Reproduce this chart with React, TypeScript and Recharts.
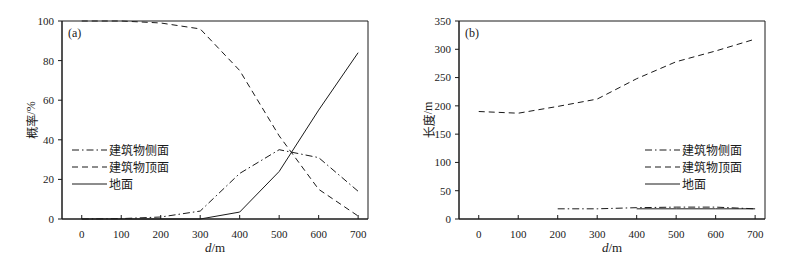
import React from 'react';
import { LineChart, Line, XAxis, YAxis, ReferenceArea } from 'recharts';

const distances = [0, 100, 200, 300, 400, 500, 600, 700];
const xTicks = [0, 100, 200, 300, 400, 500, 600, 700];

// (a) 概率 %
const probSide = [0, 0.2, 1, 4, 23, 35, 31, 14];
const probTop = [100, 100, 99, 96, 75, 42, 15, 1.5];
const probGround = [0, 0, 0, 0, 3.5, 24, 55, 84];
const probTicks = [0, 20, 40, 60, 80, 100];

// (b) 长度 m
const lenSide = [null, null, 18, 18, 20, 21, 21, 18];
const lenTop = [190, 187, 199, 212, 248, 278, 297, 318];
const lenGround = [null, null, null, null, 18, 18, 18, 18];
const lenTicks = [0, 50, 100, 150, 200, 250, 300, 350];

const seriesNames = ['建筑物侧面', '建筑物顶面', '地面'];
const dashes = ['7 3 1.5 3', '6 4', undefined];

const INK = '#1a1a1a';
const SERIF = '"Liberation Serif", "DejaVu Serif", serif';
const CJK = '"Noto Sans CJK SC", sans-serif';

const buildRows = (a: (number | null)[], b: (number | null)[], c: (number | null)[]) =>
  distances.map((d, i) => ({ d, side: a[i], top: b[i], ground: c[i] }));

const LegendBox = ({ left }: { left: number }) => (
  <div style={{ position: 'absolute', left, top: 141 }}>
    {seriesNames.map((name, i) => (
      <div key={name} style={{ display: 'flex', alignItems: 'center', height: 17 }}>
        <svg width={36} height={6}>
          <line x1={0} y1={3} x2={35} y2={3} stroke={INK} strokeWidth={1} strokeDasharray={dashes[i]} />
        </svg>
        <span style={{ fontFamily: CJK, fontSize: 12, lineHeight: '17px', color: INK, marginLeft: 1 }}>{name}</span>
      </div>
    ))}
  </div>
);

const XLabel = (props: any) => {
  const { x, y, width } = props.viewBox;
  return (
    <text x={x + width / 2} y={y + 33} textAnchor="middle" fontFamily={SERIF} fontSize={13} fill={INK}>
      <tspan fontStyle="italic">d</tspan>
      <tspan>/m</tspan>
    </text>
  );
};

const makeYLabel = (text: string, unit: string) => (props: any) => {
  const { y, height } = props.viewBox;
  const cx = 31;
  const cy = y + height / 2;
  return (
    <text x={cx} y={cy} transform={`rotate(-90 ${cx} ${cy})`} textAnchor="middle" dominantBaseline="central" fill={INK} fontSize={12}>
      <tspan fontFamily={CJK}>{text}</tspan>
      <tspan fontFamily={SERIF}>{unit}</tspan>
    </text>
  );
};

interface PanelProps {
  rows: any[];
  yTicks: number[];
  yMax: number;
  tag: string;
  yText: string;
  yUnit: string;
  legendLeft: number;
}

const Panel: React.FC<PanelProps> = ({ rows, yTicks, yMax, tag, yText, yUnit, legendLeft }) => (
  <div style={{ position: 'relative', width: 397, height: 261 }}>
    <LineChart width={397} height={261} data={rows} margin={{ top: 21, right: 29, bottom: 0, left: 0 }}>
      <XAxis
        dataKey="d"
        type="number"
        domain={[-50, 725]}
        ticks={xTicks}
        allowDataOverflow
        height={42}
        stroke={INK}
        tickSize={4}
        tickMargin={7}
        tickLine={{ stroke: INK, transform: 'translate(0,-4)' } as any}
        tick={{ fill: INK, fontFamily: SERIF, fontSize: 11 }}
        label={{ content: XLabel }}
      />
      <YAxis
        type="number"
        domain={[0, yMax]}
        ticks={yTicks}
        width={62}
        stroke={INK}
        tickSize={4}
        tickMargin={4}
        tick={{ fill: INK, fontFamily: SERIF, fontSize: 11 }}
        label={{ content: makeYLabel(yText, yUnit) }}
      />
      <ReferenceArea x1={-50} x2={725} y1={0} y2={yMax} fill="none" stroke={INK} strokeWidth={1} ifOverflow="visible" />
      <Line dataKey="side" name={seriesNames[0]} stroke={INK} strokeWidth={1} strokeDasharray={dashes[0]} dot={false} isAnimationActive={false} />
      <Line dataKey="top" name={seriesNames[1]} stroke={INK} strokeWidth={1} strokeDasharray={dashes[1]} dot={false} isAnimationActive={false} />
      <Line dataKey="ground" name={seriesNames[2]} stroke={INK} strokeWidth={1} dot={false} isAnimationActive={false} />
    </LineChart>
    <LegendBox left={legendLeft} />
    <span style={{ position: 'absolute', left: 68, top: 26, fontFamily: SERIF, fontSize: 12, color: INK }}>{tag}</span>
  </div>
);

export default function App() {
  return (
    <div style={{ position: 'absolute', left: 0, top: 0, width: 794, height: 261, background: '#fff', display: 'flex' }}>
      <Panel rows={buildRows(probSide, probTop, probGround)} yTicks={probTicks} yMax={100} tag="(a)" yText="概率" yUnit="/%" legendLeft={72} />
      <div style={{ width: 3 }} />
      <Panel rows={buildRows(lenSide, lenTop, lenGround)} yTicks={lenTicks} yMax={350} tag="(b)" yText="长度" yUnit="/m" legendLeft={248} />
    </div>
  );
}
